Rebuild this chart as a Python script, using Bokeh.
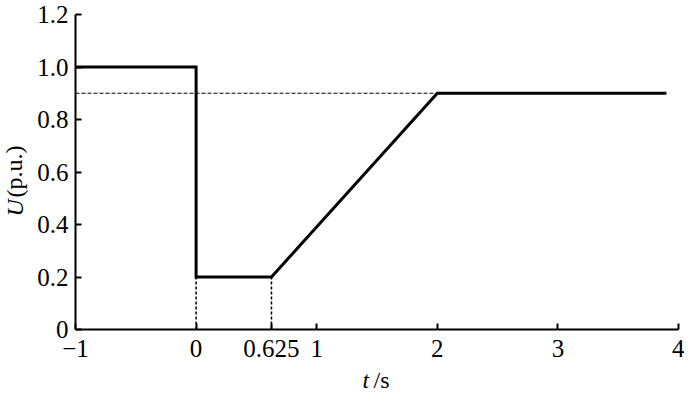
from bokeh.plotting import figure
from bokeh.models import Range1d, FixedTicker, Label
from bokeh.embed import file_html
from bokeh.resources import INLINE

# Data
t_curve = [-1, 0, 0, 0.625, 2, 3.9]
u_curve = [1.0, 1.0, 0.2, 0.2, 0.9, 0.9]
ref_t = [-1, 2]
ref_u = [0.9, 0.9]
drop_t = [0, 0.625]
drop_u_low = [0, 0]
drop_u_high = [0.2, 0.2]
x_ticks = [-1, 0, 0.625, 1, 2, 3, 4]
x_labels = ["\u22121", "0", "0.625", "1", "2", "3", "4"]
y_ticks = [0, 0.2, 0.4, 0.6, 0.8, 1.0, 1.2]
y_labels = ["0", "0.2", "0.4", "0.6", "0.8", "1.0", "1.2"]

FONT = "Liberation Serif"
FS = "25px"

W, H = 684, 392
# pixel geometry of the axes box
AX_L, AX_R = 75, 678       # x = -1 .. 4
AX_T, AX_B = 14, 329       # y = 1.2 .. 0
kx = (AX_R - AX_L) / 5.0
ky = (AX_B - AX_T) / 1.2
x0 = -1 - AX_L / kx
x1 = -1 + (W - AX_L) / kx
y0 = -(H - AX_B) / ky
y1 = 1.2 + AX_T / ky

def dx(px):
    return x0 + px / kx

def dy(py):
    return y1 - py / ky

p = figure(width=W, height=H, output_backend="svg", toolbar_location=None,
           x_range=Range1d(x0, x1), y_range=Range1d(y0, y1), min_border=0)
p.outline_line_color = None
p.grid.visible = False
p.background_fill_color = "white"
p.border_fill_color = "white"

xa = p.xaxis[0]
ya = p.yaxis[0]
xa.fixed_location = 0
xa.bounds = (-1, 4)
ya.fixed_location = -1
ya.bounds = (0, 1.2)

for ax, ticks, labels, standoff in ((xa, x_ticks, x_labels, 10), (ya, y_ticks, y_labels, 7)):
    ax.ticker = FixedTicker(ticks=ticks)
    ax.major_label_overrides = {k: v for k, v in zip(ticks, labels)}
    ax.major_tick_in = 6
    ax.major_tick_out = 0
    ax.minor_tick_in = 0
    ax.minor_tick_out = 0
    ax.axis_line_width = 2
    ax.major_tick_line_width = 2
    ax.axis_line_color = "black"
    ax.major_tick_line_color = "black"
    ax.major_label_text_font = FONT
    ax.major_label_text_font_size = FS
    ax.major_label_text_color = "black"
    ax.major_label_standoff = standoff

# Reference dashed line
p.line(ref_t, ref_u, line_color="black", line_width=1, line_dash="4 2")
# Vertical dotted guides
p.segment(x0=drop_t, y0=drop_u_low, x1=drop_t, y1=drop_u_high,
          line_color="black", line_width=1.5, line_dash="3 2")
# Main curve
p.line(t_curve, u_curve, line_color="black", line_width=3, line_join="miter")

# Axis titles (mixed italic/regular)
LFS = "24px"
p.add_layout(Label(x=dx(14), y=dy(216), text="U", angle=1.5708, text_font=FONT,
                   text_font_style="italic", text_font_size=LFS, text_align="left",
                   text_baseline="middle", text_color="black"))
p.add_layout(Label(x=dx(14), y=dy(197), text="(p.u.)", angle=1.5708, text_font=FONT,
                   text_font_size=LFS, text_align="left",
                   text_baseline="middle", text_color="black"))
p.add_layout(Label(x=dx(362), y=dy(379), text="t", text_font=FONT,
                   text_font_style="italic", text_font_size=LFS, text_align="left",
                   text_baseline="middle", text_color="black"))
p.add_layout(Label(x=dx(373), y=dy(379), text="/s", text_font=FONT,
                   text_font_size=LFS, text_align="left",
                   text_baseline="middle", text_color="black"))

open("out.html", "w").write(file_html(p, INLINE))
